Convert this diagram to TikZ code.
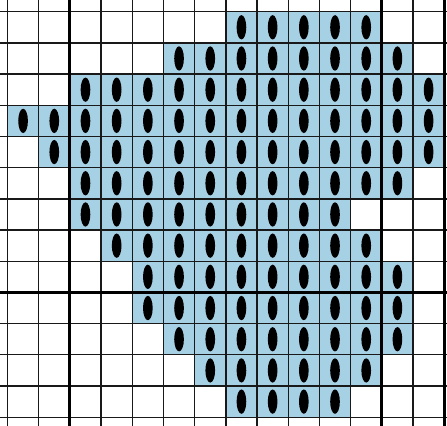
\documentclass[tikz,border=0pt]{standalone}
\usepackage{xcolor}
\usepackage{tikz}
\definecolor{azulfio}{RGB}{166,208,228}

\begin{document}
\begin{tikzpicture}[
  x = 1cm, y = 1cm,
  celula/.style = {fill=azulfio},
  ponto/.style = {fill=black},
  fina/.style = {line width=1.2pt, black!90},
  grossa/.style = {line width=2.6pt, black},
]
\useasboundingbox (-0.24,-13.28) rectangle (14.09,0.375);
% linha/primeira coluna/ultima coluna
\foreach \r/\a/\b in {0/7/11, 1/5/12, 2/2/13, 3/0/13, 4/1/13, 5/2/12, 6/2/10,
                       7/3/11, 8/4/12, 9/4/12, 10/5/12, 11/6/11, 12/7/10}{
  \foreach \c in {\a,...,\b}{
    \fill[celula] (\c,-\r) rectangle ++(1,-1);
    \fill[ponto] (\c+0.5,-\r-0.5) ellipse [x radius=0.155, y radius=0.39];
  }
}
% grade
\foreach \c in {0,...,14} \draw[fina] (\c,0.5) -- (\c,-13.5);
\foreach \r in {0,...,13} \draw[fina] (-0.5,-\r) -- (14.5,-\r);
\foreach \c in {2,12,14} \draw[grossa] (\c,0.5) -- (\c,-13.5);
\draw[grossa] (-0.5,-9) -- (14.5,-9);
\end{tikzpicture}
\end{document}
